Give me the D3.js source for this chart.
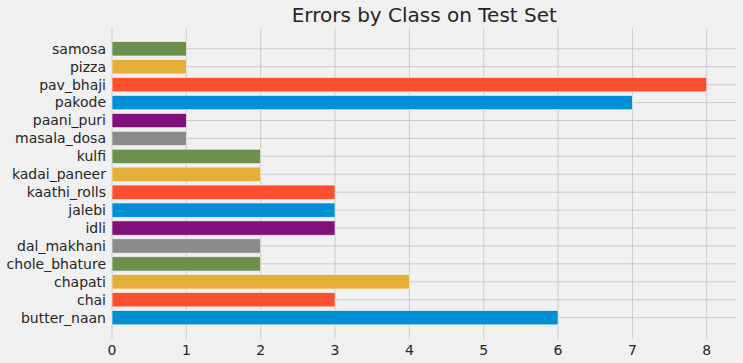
<!DOCTYPE html>
<html>
<head>
<meta charset="utf-8">
<script src="https://cdn.jsdelivr.net/npm/d3@7"></script>
<style>
  body { margin: 0; background: #f0f0f0; }
  svg { display: block; font-family: "DejaVu Sans", sans-serif; }
</style>
</head>
<body>
<svg id="chart" width="743" height="363"></svg>
<script>
/* data, bottom to top as drawn */
var classes = ["butter_naan", "chai", "chapati", "chole_bhature", "dal_makhani", "idli",
  "jalebi", "kaathi_rolls", "kadai_paneer", "kulfi", "masala_dosa", "paani_puri",
  "pakode", "pav_bhaji", "pizza", "samosa"];
var errors = [6, 3, 4, 2, 2, 3, 3, 3, 2, 2, 1, 1, 7, 8, 1, 1];
var xTicks = [0, 1, 2, 3, 4, 5, 6, 7, 8];
var chartTitle = "Errors by Class on Test Set";

/* fivethirtyeight cycle */
var palette = ["#008fd5", "#fc4f30", "#e5ae38", "#6d904f", "#8b8b8b", "#810f7c"];

var svg = d3.select("svg#chart");
var plot = { left: 112, right: 736.5, top: 27.5, bottom: 339 };

var x = d3.scaleLinear().domain([0, 8.4]).range([plot.left, plot.right]);
// matplotlib-ish y: index positions, 0.05 margins around bars of height 0.8
var y = d3.scaleLinear().domain([-1.19, 16.19]).range([plot.bottom, plot.top]);
var barH = 0.8;

svg.append("rect").attr("width", 743).attr("height", 363).attr("fill", "#f0f0f0");

/* grid */
var grid = svg.append("g");
grid.selectAll(".vg").data(xTicks).enter().append("line")
  .attr("x1", d => x(d)).attr("x2", d => x(d))
  .attr("y1", plot.top).attr("y2", plot.bottom)
  .attr("stroke", "#cbcbcb").attr("stroke-width", 1);
grid.selectAll(".hg").data(classes).enter().append("line")
  .attr("x1", plot.left).attr("x2", plot.right)
  .attr("y1", (d, i) => y(i)).attr("y2", (d, i) => y(i))
  .attr("stroke", "#cbcbcb").attr("stroke-width", 1);

/* bars */
svg.append("g").selectAll("rect").data(errors).enter().append("rect")
  .attr("x", x(0))
  .attr("y", (d, i) => y(i + barH / 2))
  .attr("width", d => x(d) - x(0))
  .attr("height", (d, i) => y(i - barH / 2) - y(i + barH / 2))
  .attr("fill", (d, i) => palette[i % palette.length])
  .attr("stroke", "#f0f0f0").attr("stroke-width", 0.7);

/* y labels */
svg.append("g").selectAll("text").data(classes).enter().append("text")
  .attr("x", plot.left - 6)
  .attr("y", (d, i) => y(i))
  .attr("dy", "0.35em")
  .attr("text-anchor", "end")
  .attr("font-size", 14)
  .attr("fill", "#262626")
  .text(d => d);

/* x labels */
svg.append("g").selectAll("text").data(xTicks).enter().append("text")
  .attr("x", d => x(d))
  .attr("y", 350)
  .attr("dy", "0.35em")
  .attr("text-anchor", "middle")
  .attr("font-size", 14)
  .attr("fill", "#262626")
  .text(d => d);

/* title */
svg.append("text")
  .attr("x", (plot.left + plot.right) / 2)
  .attr("y", 22)
  .attr("text-anchor", "middle")
  .attr("font-size", 20)
  .attr("fill", "#262626")
  .text(chartTitle);
</script>
</body>
</html>
